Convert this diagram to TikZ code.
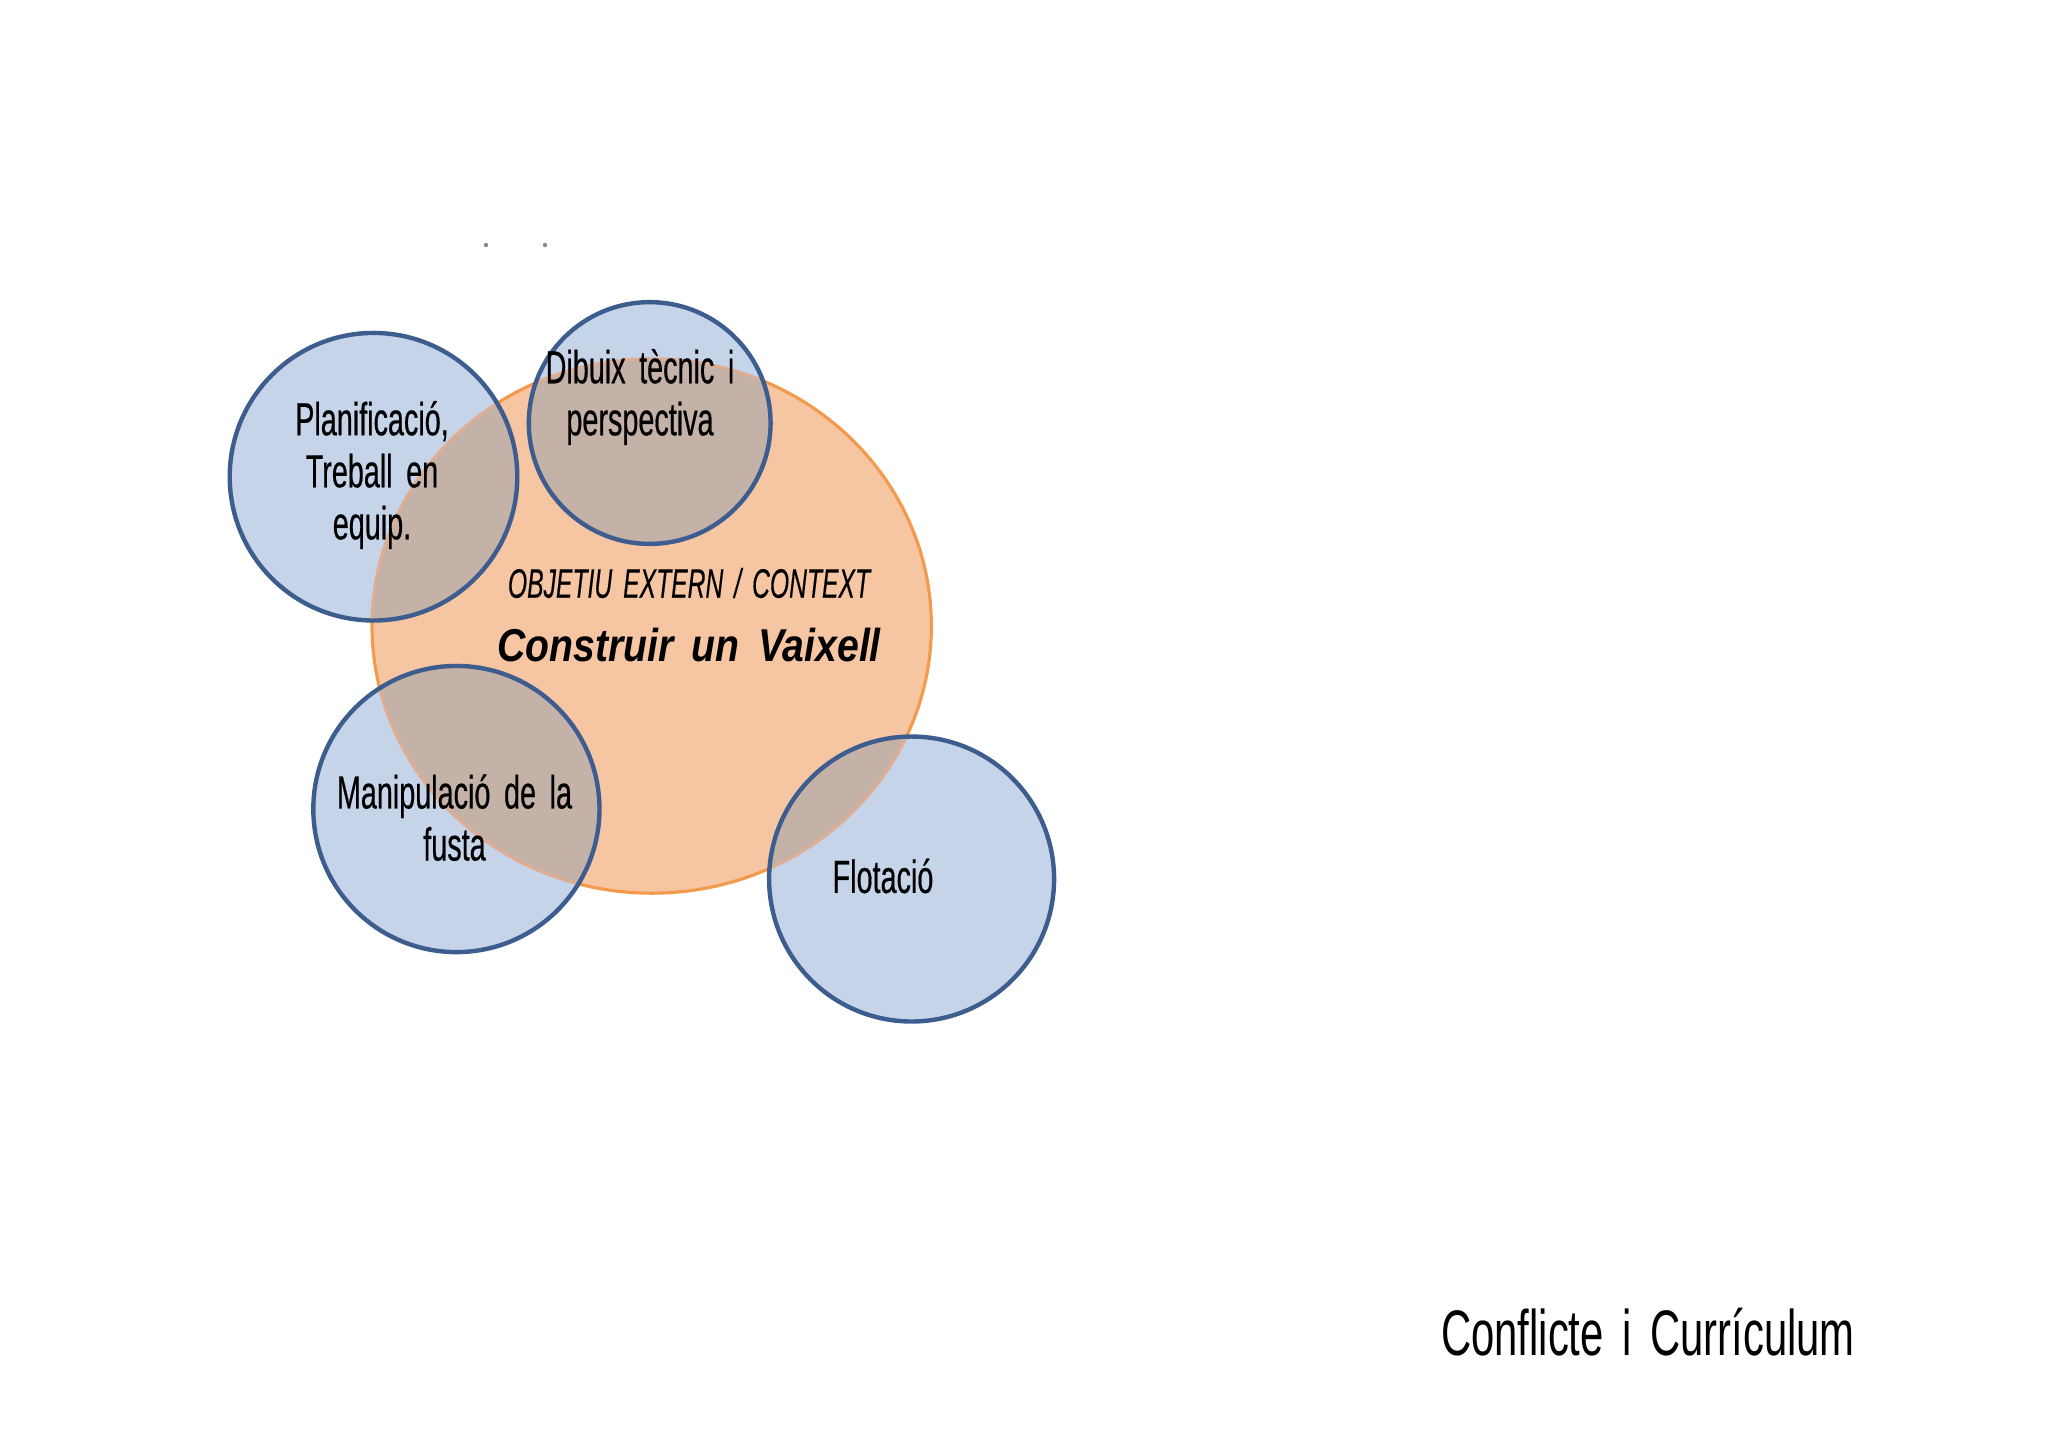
\documentclass[tikz,border=0pt]{standalone}
\usepackage{fontspec}
\usetikzlibrary{shapes.geometric}
\newfontfamily\agency[FakeStretch=0.62,WordSpace=1.7,FakeBold=0.4]{Liberation Sans}
\newfontfamily\agencyi[FakeStretch=0.60,WordSpace=1.6,FakeBold=0.3]{Liberation Sans}
\newfontfamily\agencyb[FakeStretch=0.85,WordSpace=1.7]{Liberation Sans}
\newfontfamily\agencyc[FakeStretch=0.65,WordSpace=1.6]{Liberation Sans}
\definecolor{peach}{HTML}{F6C6A3}
\definecolor{orangeline}{HTML}{F39A4C}
\definecolor{orangefade}{HTML}{DDAE93}
\definecolor{bluefill}{HTML}{C6D4EA}
\definecolor{overlapc}{HTML}{C4B1A8}
\definecolor{blueline}{HTML}{3D5D8F}
\definecolor{dotc}{HTML}{8A8A8A}
\begin{document}
\begin{tikzpicture}[x=0.01cm,y=-0.01cm,
  bluec/.style={circle,draw=blueline,line width=1.25pt,inner sep=0pt,outer sep=0pt},
  ctxshape/.style={ellipse,draw=orangeline,line width=0.9pt,inner sep=0pt,outer sep=0pt,
     minimum width=5.59cm,minimum height=5.34cm},
  body/.style={align=center,inner sep=0pt,font=\agency\fontsize{13.2}{14.8}\selectfont},
]
\useasboundingbox (0,0) rectangle (2048,1447);
\fill[white] (0,0) rectangle (2048,1447);

% centres
\coordinate (cc) at (651.7,626);
\coordinate (pc) at (373.5,476.7);
\coordinate (dc) at (649.7,423);
\coordinate (mc) at (456.4,809);
\coordinate (fc) at (911.6,879);

% orange context
\node[ctxshape,fill=peach] (ctx) at (cc) {};

% blue fills
\fill[bluefill] (pc) circle[radius=1.437cm];
\fill[bluefill] (dc) circle[radius=1.208cm];
\fill[bluefill] (mc) circle[radius=1.43cm];
\fill[bluefill] (fc) circle[radius=1.424cm];

% overlaps
\begin{scope}
  \clip (cc) ellipse[x radius=2.795cm,y radius=2.67cm];
  \fill[overlapc] (pc) circle[radius=1.437cm];
  \fill[overlapc] (dc) circle[radius=1.208cm];
  \fill[overlapc] (mc) circle[radius=1.43cm];
  \fill[overlapc] (fc) circle[radius=1.424cm];
\end{scope}

% faded orange border seen through the blue circles
\begin{scope}
  \clip (pc) circle[radius=1.437cm] (dc) circle[radius=1.208cm]
        (mc) circle[radius=1.43cm] (fc) circle[radius=1.424cm];
  \draw[orangefade,line width=0.9pt] (cc) ellipse[x radius=2.795cm,y radius=2.67cm];
\end{scope}

% blue circle outlines
\node[bluec,minimum size=2.874cm] (plan) at (pc) {};
\node[bluec,minimum size=2.416cm] (dib) at (dc) {};
\node[bluec,minimum size=2.86cm] (manip) at (mc) {};
\node[bluec,minimum size=2.848cm] (flot) at (fc) {};

% labels
\node[body] (plant) at (372,475) {Planificació,\\Treball en\\equip.};
\node[body] (dibt) at (640,397) {Dibuix tècnic i\\perspectiva};
\node[body] (manipt) at (454.5,817.6) {Manipulació de la\\fusta};
\node[body] (flott) at (883,876) {Flotació};

\node[inner sep=0pt,font=\agencyi\itshape\fontsize{11.7}{14}\selectfont] (obj) at (689,583)
  {OBJETIU EXTERN / CONTEXT};
\node[inner sep=0pt,font=\agencyb\bfseries\itshape\fontsize{13.1}{15}\selectfont] (cons) at (689,645)
  {Construir un Vaixell};

\node[inner sep=0pt,font=\agencyc\fontsize{18.3}{22}\selectfont] (title) at (1648,1332)
  {Conflicte i Currículum};

% stray dots
\fill[dotc] (486,245) circle[radius=2.2];
\fill[dotc] (545,245) circle[radius=2.2];
\end{tikzpicture}
\end{document}
